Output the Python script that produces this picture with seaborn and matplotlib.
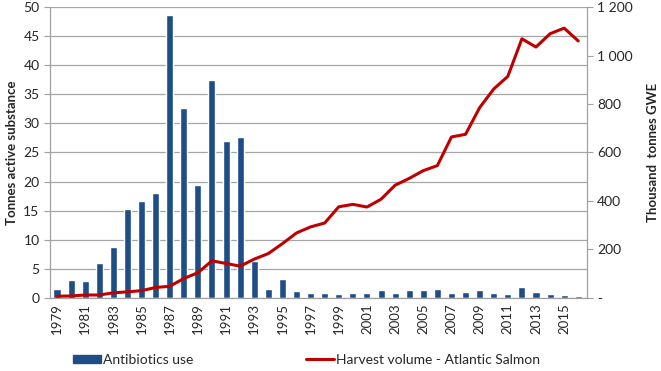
import numpy as np
import pandas as pd
import seaborn as sns
from matplotlib import pyplot as plt
from matplotlib.ticker import FixedLocator, FuncFormatter

years = list(range(1979, 2017))
antibiotics = [1.6, 3.0, 2.9, 6.0, 8.7, 15.3, 16.6, 18.1, 48.6, 32.6,
               19.4, 37.5, 26.9, 27.7, 6.4, 1.6, 3.3, 1.2, 0.9, 0.9,
               0.6, 0.9, 0.9, 1.4, 0.9, 1.3, 1.4, 1.6, 0.9, 1.0,
               1.4, 0.9, 0.7, 1.8, 1.0, 0.7, 0.5, 0.3]
harvest = [7, 8, 12, 12, 21, 25, 30, 43, 48, 80,
           104, 153, 142, 131, 160, 183, 224, 268, 293, 309,
           376, 386, 375, 407, 465, 493, 525, 546, 664, 675,
           785, 862, 914, 1069, 1035, 1090, 1113, 1060]

df = pd.DataFrame({'year': years, 'antibiotics': antibiotics, 'harvest': harvest})

sns.set_style('white')
plt.rcParams['font.family'] = ['Lato', 'DejaVu Sans']

fig = plt.figure(figsize=(6.61, 3.71), dpi=100)
ax = fig.add_axes([0.0756, 0.197, 0.812, 0.784])
ax2 = ax.twinx()

# bars on the left axis, salmon harvest on the right axis (drawn on top)
sns.barplot(data=df, x='year', y='antibiotics', native_scale=True, width=0.5,
            color='#1F4E86', saturation=1, ax=ax, zorder=2)
sns.lineplot(data=df, x='year', y='harvest', color='#C00000', linewidth=2.2,
             ax=ax2, legend=False)

ax.set_ylim(0, 50)
ax.set_yticks(range(0, 51, 5))
ax2.set_ylim(0, 1200)
ax2.set_yticks(range(0, 1201, 200))
ax2.yaxis.set_major_formatter(FuncFormatter(
    lambda v, p: '-' if v == 0 else f'{int(v):,}'.replace(',', ' ')))
ax.set_xlim(1978.5, 2016.6)
ax.set_xticks(years[::2])
ax.set_xticklabels([str(y) for y in years[::2]], rotation=90)
ax.xaxis.set_minor_locator(FixedLocator([y - 0.5 for y in years] + [2016.5]))
ax.tick_params(axis='x', which='major', length=0, labelsize=9.5, pad=4)
ax.tick_params(axis='x', which='minor', length=4, color='#A0A0A0', width=0.8)
ax.tick_params(axis='y', length=4, color='#A0A0A0', labelsize=10, width=0.8)
ax2.tick_params(axis='y', length=4, color='#A0A0A0', labelsize=10, width=0.8)

ax2.grid(False)
ax.grid(axis='y', color='#A6A6A6', linewidth=0.9, zorder=0)
ax.set_axisbelow(True)
ax.set_xlabel('')
ax.set_ylabel('Tonnes active substance', fontsize=9.5, fontweight='bold')
ax2.set_ylabel('Thousand  tonnes GWE', fontsize=9.5, fontweight='bold', labelpad=10)

for a in (ax, ax2):
    a.spines['top'].set_visible(False)
    for s in ('left', 'right', 'bottom'):
        a.spines[s].set_color('#A0A0A0')
        a.spines[s].set_linewidth(0.8)

handles = [plt.Rectangle((0, 0), 1, 1, color='#1F4E86'),
           plt.Line2D([0], [0], color='#C00000', linewidth=2.2)]
fig.legend(handles, ['Antibiotics use', 'Harvest volume - Atlantic Salmon'],
           loc='lower left', bbox_to_anchor=(0.092, -0.02), ncol=2, frameon=False,
           fontsize=10, handlelength=2.0, handleheight=0.5, handletextpad=0.15,
           columnspacing=8.1)

fig.savefig('out.png', dpi=100)
